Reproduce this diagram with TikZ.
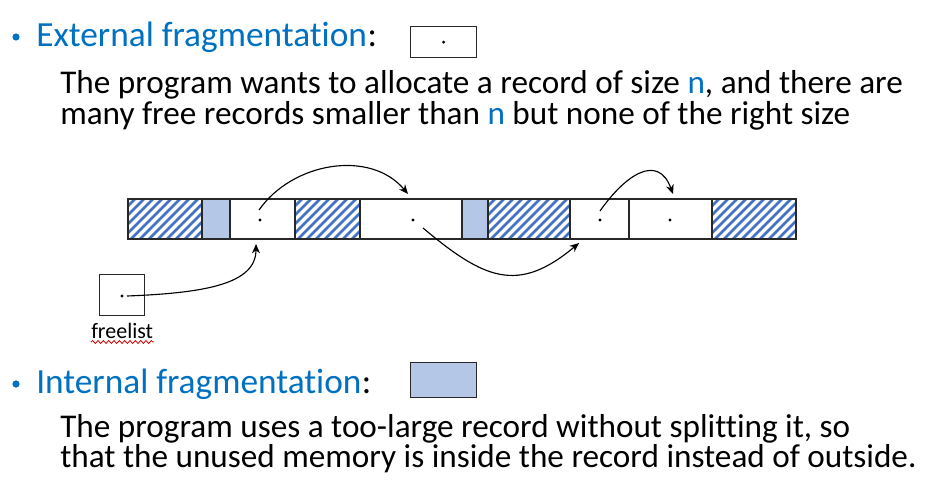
\documentclass[tikz,border=0pt]{standalone}
\usepackage{fontspec}
\setmainfont[Ligatures=NoCommon,RawFeature={-liga}]{Carlito}
\usetikzlibrary{arrows.meta,calc,decorations.pathmorphing}
\definecolor{hdblue}{RGB}{0,112,192}
\definecolor{hatchblue}{RGB}{68,114,196}
\definecolor{fillblue}{RGB}{180,199,231}
\definecolor{cellline}{RGB}{40,40,40}
\tikzset{
  cellbox/.style={draw=cellline,line width=1pt,minimum height=30pt,inner sep=0pt,outer sep=0pt},
  arr/.style={line width=0.85pt,-{Stealth[length=7pt,width=6pt]}},
  bodytext/.style={anchor=base west,inner sep=0pt,font=\fontsize{24.9}{29}\selectfont},
  headtext/.style={anchor=base west,inner sep=0pt,font=\fontsize{26.5}{31}\selectfont,text=hdblue},
  dotmark/.style={circle,fill=black,inner sep=0pt,minimum size=2.4pt},
}
\newcommand{\hatchcell}[4]{%
  \begin{scope}
    \clip (#1,#2) rectangle (#3,#4);
    \foreach \s in {-60,-51,...,120}{
      \draw[hatchblue,line width=2.1pt] ({#1+\s},#4) -- ({#1+\s+60},{#4-60});
    }
  \end{scope}}
\begin{document}
\begin{tikzpicture}[x=0.75pt,y=-0.75pt]
\useasboundingbox (0,0) rectangle (943,486);
% heading 1
\node[headtext] (h1) at (36,46) {External fragmentation};
\node[anchor=base west,inner sep=0pt,font=\fontsize{26.5}{31}\selectfont] (h1c) at (h1.base east) {:};
\fill[hdblue] (16,37) circle (3.6);
\node[draw=cellline,line width=1pt,minimum width=49.5pt,minimum height=23.25pt,inner sep=0pt,anchor=north west] (ebox) at (410,26) {};
\node[dotmark] (edot) at (ebox.center) {};
% body 1
\node[bodytext] (b1) at (60,93) {The program wants to allocate a record of size \textcolor{hdblue}{n}, and there are};
\node[bodytext] (b2) at (60,124) {many free records smaller than \textcolor{hdblue}{n} but none of the right size};

% memory strip: cells
\fill[white] (128,199) rectangle (796,239);
\hatchcell{128}{199}{202}{239}
\hatchcell{295}{199}{360}{239}
\hatchcell{488}{199}{570}{239}
\hatchcell{712}{199}{796}{239}
\fill[fillblue] (202,199) rectangle (230,239);
\fill[fillblue] (462,199) rectangle (488,239);
\node[cellbox,minimum width=55.5pt,anchor=north west] (c1) at (128,199) {};
\node[cellbox,minimum width=21pt,anchor=north west] (c2) at (202,199) {};
\node[cellbox,minimum width=48.75pt,anchor=north west] (c3) at (230,199) {};
\node[cellbox,minimum width=48.75pt,anchor=north west] (c4) at (295,199) {};
\node[cellbox,minimum width=76.5pt,anchor=north west] (c5) at (360,199) {};
\node[cellbox,minimum width=19.5pt,anchor=north west] (c6) at (462,199) {};
\node[cellbox,minimum width=61.5pt,anchor=north west] (c7) at (488,199) {};
\node[cellbox,minimum width=44.25pt,anchor=north west] (c8) at (570,199) {};
\node[cellbox,minimum width=62.25pt,anchor=north west] (c9) at (629,199) {};
\node[cellbox,minimum width=63pt,anchor=north west] (c10) at (712,199) {};

\node[dotmark] (d3) at (260,220) {};
\node[dotmark] (d5) at (413,220) {};
\node[dotmark] (d8) at (600,220) {};
\node[dotmark] (d9) at (670,220) {};

% free list links
\draw[arr] ($(d3)+(-1,-10)$) to[out=55,in=130] ($(c5.north west)+(48,-5)$);
\draw[arr] ($(d5)+(10,8)$) to[out=-40,in=-140,looseness=1.3] ($(c8.south west)+(9,4)$);
\draw[arr] ($(d8)+(0,-9)$) to[out=55,in=110,looseness=1.5] ($(c9.north west)+(44,-5)$);

% freelist box
\node[draw=cellline,line width=1pt,minimum width=33.75pt,minimum height=30.75pt,inner sep=0pt,anchor=north west] (fl) at (99,274) {};
\node[dotmark] (fdot) at (122,296) {};
\coordinate (fltip) at ($(c3.south west)+(26,5)$);
\draw[arr] ($(fdot)+(5,0)$) .. controls (205,293) and (256,284) .. (fltip);
\node[anchor=base west,inner sep=0pt,font=\fontsize{16.5}{19}\selectfont] (fltext) at (91,338) {freelist};
\draw[red!85!black,line width=0.6pt,decorate,decoration={snake,amplitude=1.1,segment length=4}] (91,342) -- (154,342);

% heading 2
\node[headtext] (h2) at (36,393) {Internal fragmentation};
\node[anchor=base west,inner sep=0pt,font=\fontsize{26.5}{31}\selectfont] (h2c) at (h2.base east) {:};
\fill[hdblue] (16,384) circle (3.6);
\node[draw=cellline,line width=1pt,fill=fillblue,minimum width=49.5pt,minimum height=26.25pt,inner sep=0pt,anchor=north west] (ibox) at (410,362) {};
% body 2
\node[bodytext] (b3) at (60,437) {The program uses a too-large record without splitting it, so};
\node[bodytext] (b4) at (60,467) {that the unused memory is inside the record instead of outside.};
\end{tikzpicture}
\end{document}
